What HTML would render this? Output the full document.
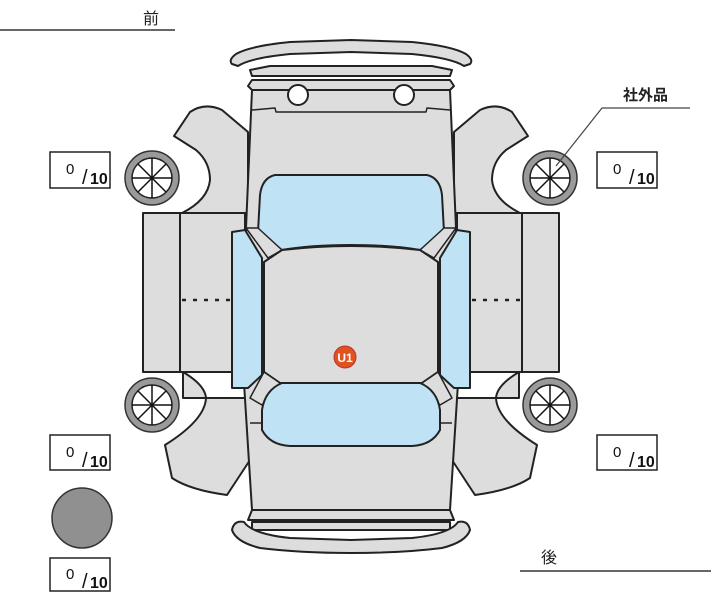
<!DOCTYPE html>
<html><head><meta charset="utf-8"><style>
html,body{margin:0;padding:0;background:#fff;}
svg{display:block}
text{font-family:"Liberation Sans","Noto Sans CJK JP",sans-serif;}
</style></head><body>
<svg width="711" height="600" viewBox="0 0 711 600" xmlns="http://www.w3.org/2000/svg">
<defs>
<g id="wheel">
  <circle r="27" fill="#9a9a9a" stroke="#333" stroke-width="1.5"/>
  <circle r="20" fill="#fff" stroke="#222" stroke-width="1.5"/>
  <g stroke="#111" stroke-width="1.5">
    <line x1="-20" y1="0" x2="20" y2="0"/><line x1="0" y1="-20" x2="0" y2="20"/>
    <line x1="-14" y1="-14" x2="14" y2="14"/><line x1="-14" y1="14" x2="14" y2="-14"/>
  </g>
</g>
<g id="half" stroke="#222" stroke-width="2" stroke-linejoin="round">
  <path d="M248,132 L222,110 Q205,102 190,112 L174,136 L196,150 Q210,162 210,180 Q208,200 182,213 L248,213 Z" fill="#ddd"/>
  <path d="M143,213 L245,213 L245,372 L143,372 Z" fill="#ddd"/>
  <line x1="180" y1="213" x2="180" y2="372"/>
  <line x1="182" y1="300" x2="232" y2="300" stroke-dasharray="4,7" stroke-width="2.5"/>
  <path d="M183,372 Q205,385 206,398 Q205,420 165,445 L172,478 Q190,490 227,495 L250,460 L250,398 L183,398 Z" fill="#ddd"/>
  <use href="#wheel" x="152" y="178"/>
  <use href="#wheel" x="152" y="405"/>
</g>
</defs>
<use href="#half"/>
<use href="#half" transform="translate(702,0) scale(-1,1)"/>
<g stroke="#222" stroke-width="2" stroke-linejoin="round" fill="#ddd">
  <path d="M232,64 Q228,60 236,54 Q250,46 290,42 L351,40 L412,42 Q452,46 466,54 Q474,60 470,64 L464,66 Q452,58 412,54 L351,52 L290,54 Q250,58 238,66 Z"/>
  <path d="M270,66 L432,66 L452,70 L450,76 L252,76 L250,70 Z"/>
  <path d="M252,80 L450,80 L454,86 L450,90 L252,90 L248,86 Z"/>
  <path d="M252,90 L450,90 L456,228 L458,383 L450,510 L252,510 L244,383 L246,228 Z"/>
  <path d="M252,110 L275,108 L276,112 L426,112 L427,108 L450,110" fill="none" stroke-width="1.5"/>
  <path d="M252,510 L450,510 L454,520 L248,520 Z"/>
  <path d="M252,522 L450,522 L450,530 L252,530 Z"/>
  <path d="M351,540 L290,538 Q252,534 244,522 Q234,520 232,530 Q236,542 260,548 Q300,553 351,553 Q402,553 442,548 Q466,542 470,530 Q468,520 458,522 Q450,534 412,538 Z"/>
  <path d="M275,175 L427,175 Q440,178 442,195 L444,232 L420,250 Q392,245 351,245 Q310,245 282,250 L258,232 L260,195 Q262,178 275,175 Z" fill="#bfe3f5"/>
  <path d="M246,228 L258,228 L282,250 L268,258 Z" stroke-width="1.5"/>
  <path d="M456,228 L444,228 L420,250 L434,258 Z" stroke-width="1.5"/>
  <path d="M282,250 Q351,242 420,250 L438,262 L438,372 L422,383 L280,383 L264,372 L264,262 Z"/>
  <path d="M232,232 L245,230 L262,258 L262,375 L248,388 L232,388 Z" fill="#bfe3f5"/>
  <path d="M470,232 L457,230 L440,258 L440,375 L454,388 L470,388 Z" fill="#bfe3f5"/>
  <path d="M264,372 L280,383 L262,405 L250,398 Z" stroke-width="1.5"/>
  <path d="M438,372 L422,383 L440,405 L452,398 Z" stroke-width="1.5"/>
  <path d="M282,383 L420,383 Q437,390 440,410 L440,430 Q432,445 412,446 L290,446 Q270,445 262,430 L262,410 Q265,390 282,383 Z" fill="#bfe3f5"/>
  <line x1="250" y1="423" x2="262" y2="423" stroke-width="1.5"/>
  <line x1="440" y1="423" x2="452" y2="423" stroke-width="1.5"/>
  <circle cx="298" cy="95" r="10" fill="#fff"/>
  <circle cx="404" cy="95" r="10" fill="#fff"/>
</g>
<circle cx="345" cy="357" r="11" fill="#e0521e" stroke="#b33" stroke-width="1"/>
<text x="345" y="362" font-size="12" font-weight="bold" fill="#fff" text-anchor="middle">U1</text>

<g fill="#fff" stroke="#222" stroke-width="1.5">
  <rect x="50" y="152" width="60" height="36"/>
  <rect x="597" y="152" width="60" height="36"/>
  <rect x="50" y="435" width="60" height="35"/>
  <rect x="597" y="435" width="60" height="35"/>
  <rect x="50" y="558" width="60" height="33"/>
</g>
<g font-size="15" fill="#111">
  <text x="66" y="174">0</text><text x="82" y="184" font-size="20">/</text><text x="90" y="184" font-weight="bold" font-size="16">10</text>
  <text x="613" y="174">0</text><text x="629" y="184" font-size="20">/</text><text x="637" y="184" font-weight="bold" font-size="16">10</text>
  <text x="66" y="457">0</text><text x="82" y="467" font-size="20">/</text><text x="90" y="467" font-weight="bold" font-size="16">10</text>
  <text x="613" y="457">0</text><text x="629" y="467" font-size="20">/</text><text x="637" y="467" font-weight="bold" font-size="16">10</text>
  <text x="66" y="579">0</text><text x="82" y="588" font-size="20">/</text><text x="90" y="588" font-weight="bold" font-size="16">10</text>
</g>
<circle cx="82" cy="518" r="30" fill="#909090" stroke="#333" stroke-width="1.5"/>

<text x="143" y="24" font-size="16" fill="#222">前</text>
<line x1="0" y1="30" x2="175" y2="30" stroke="#333" stroke-width="1.5"/>
<text x="541" y="563" font-size="16" fill="#222">後</text>
<line x1="520" y1="571" x2="711" y2="571" stroke="#333" stroke-width="1.5"/>
<text x="623" y="100" font-size="15" font-weight="bold" fill="#222">社外品</text>
<polyline points="690,108 602,108 556,166" fill="none" stroke="#444" stroke-width="1.2"/>
</svg>
</body></html>
